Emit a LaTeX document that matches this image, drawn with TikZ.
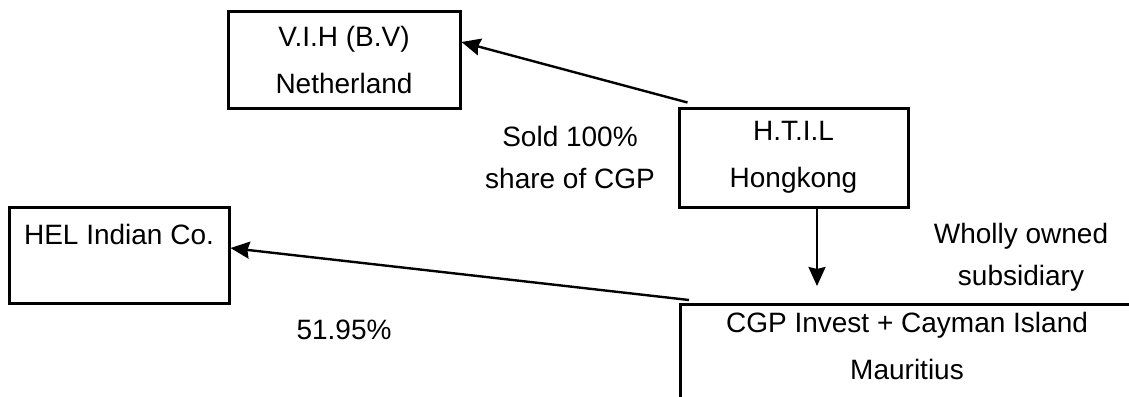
\documentclass[tikz,border=0pt]{standalone}
\usepackage{fontspec}
\setmainfont{Liberation Sans}
\usetikzlibrary{arrows.meta,calc}
\begin{document}
\begin{tikzpicture}[x=1pt,y=-1pt,
  boxnode/.style={draw=black,line width=3pt,inner sep=0pt,align=center,font=\fontsize{28}{47}\selectfont},
  txt/.style={inner sep=0pt,align=center,font=\fontsize{28}{42}\selectfont},
  conn/.style={line width=2.4pt,-{Stealth[length=19pt,width=17pt,inset=2pt]}}]
\useasboundingbox (0,0) rectangle (1129,396);
\fill[white] (0,0) rectangle (1129,396);
\clip (0,0) rectangle (1129,396);
\node[boxnode,minimum width=232,minimum height=96] (vih) at (344,60) {V.I.H (B.V)\\Netherland};
\node[boxnode,minimum width=229,minimum height=99] (htil) at (793.5,157.5) {H.T.I.L\\Hongkong};
\node[boxnode,minimum width=220,minimum height=96] (hel) at (119,255) {};
\node[txt] (heltext) at (119,234) {HEL Indian Co.};
\node[boxnode,anchor=north west,minimum width=470,minimum height=130] (cgpbox) at (679,303) {};
\node[txt,font=\fontsize{28}{47}\selectfont] (cgp) at (907,346) {CGP Invest + Cayman Island\\Mauritius};
\node[txt] (sold) at (570,157) {Sold 100\%\\share of CGP};
\node[txt] (wholly) at (1021,257) {Wholly owned\\subsidiary};
\node[txt] (pct) at (344,330) {51.95\%};
\draw[conn] ($(htil.north west)+(10,-4)$) -- ($(vih.east)+(0,-18)$);
\draw[conn] ($(cgpbox.north west)+(10,-3)$) -- ($(hel.east)+(0,-7)$);
\draw[conn] ($(htil.south)+(23.5,0)$) -- ($(cgpbox.north west)+(138,-17)$);
\end{tikzpicture}
\end{document}
